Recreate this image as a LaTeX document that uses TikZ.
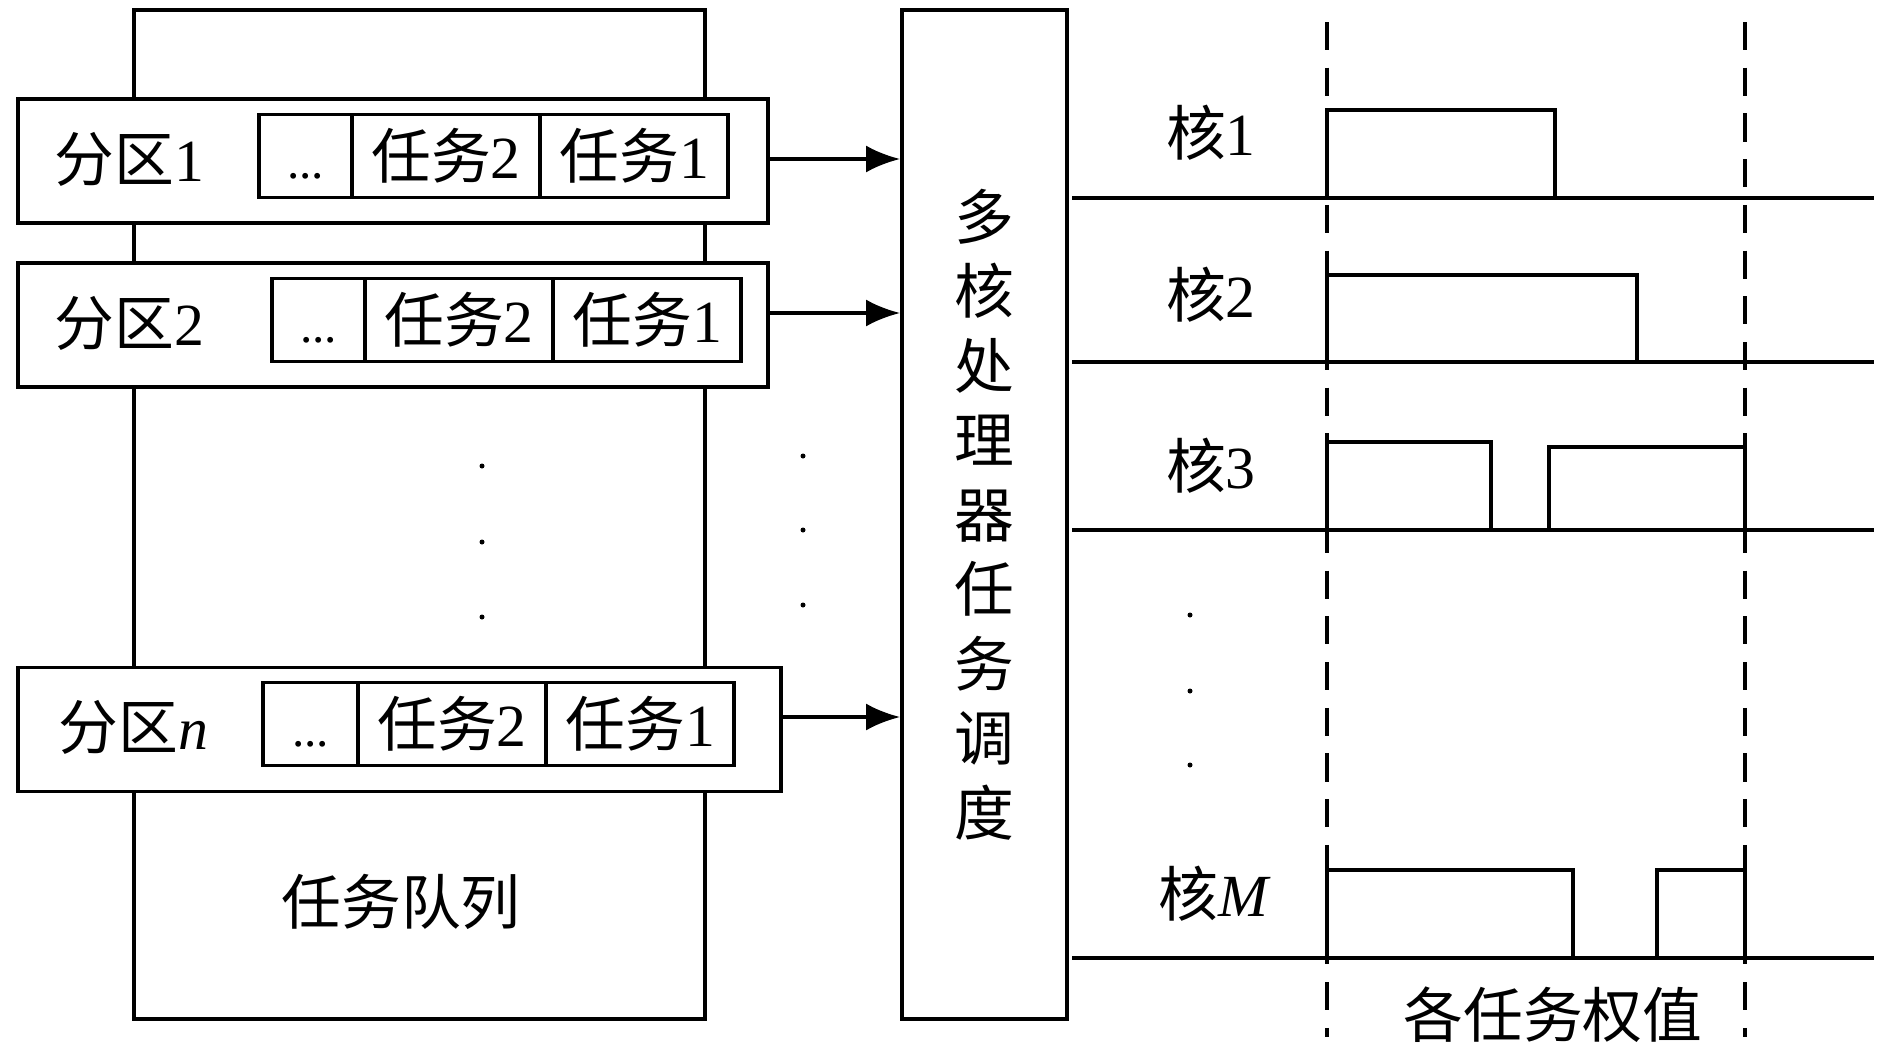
\documentclass[tikz,border=0pt]{standalone}
\usepackage{fontspec}
\setmainfont{Liberation Serif}
\newfontfamily\cjk{Noto Sans CJK SC}
\usetikzlibrary{arrows.meta,positioning}

\tikzset{
	box/.style={draw,line width=1.05pt,inner sep=0pt},
	part/.style={box,fill=white,minimum height=1.24cm},
	cell/.style={box,outer sep=0pt,minimum height=0.83cm,font=\fontsize{17}{20}\selectfont},
	lbl/.style={inner sep=0pt,font=\fontsize{17}{20}\selectfont},
	arr/.style={-{Latex[length=0.34cm,width=0.27cm]},line width=1.05pt},
	axis/.style={line width=1.05pt},
	dashline/.style={line width=1.05pt,dash pattern=on 8pt off 5pt}
}

\begin{document}
\begin{tikzpicture}[x=0.01cm,y=-0.01cm]
	\useasboundingbox (0,0) rectangle (1890,1051);
	
	\node (queue) [box,minimum width=5.71cm,minimum height=10.09cm] at (419.5,514.5) {};
	\node (qlbl) [lbl] at (401,902) {\cjk 任务队列};
	\foreach \y in {466,542,617}
	\fill (482,\y) circle (2.5);
	
	\node (p1) [part,minimum width=7.5cm] at (393,161) {};
	\node (p2) [part,minimum width=7.5cm] at (393,325) {};
	\node (pn) [part,minimum width=7.63cm] at (399.5,729.5) {};
	\node (l1) [lbl,anchor=west] at (54,159) {{\cjk 分区}1};
	\node (l2) [lbl,anchor=west] at (54,323) {{\cjk 分区}2};
	\node (ln) [lbl,anchor=west] at (58,727) {{\cjk 分区}\textit{n}};
	
	\foreach \p/\x/\y/\w in {1/259/156/0.93, 2/272/320/0.93, n/263/724/0.95}{
		\node (d\p) [cell,minimum width=\w cm,anchor=west] at (\x,\y) {\vphantom{{\cjk 任务}2}{\fontsize{14}{14}\selectfont...}};
		\node (b\p) [cell,minimum width=1.88cm,right=0pt of d\p] {{\cjk 任务}2};
		\node (a\p) [cell,minimum width=1.88cm,right=0pt of b\p] {{\cjk 任务}1};
	}
	
	\foreach \y in {456,530,605}
	\fill (803,\y) circle (2.5);
	
	\node (sched) [box,minimum width=1.65cm,minimum height=10.09cm,align=center,font=\fontsize{17}{21.2}\selectfont\cjk] at (984.5,514.5) {多\\核\\处\\理\\器\\任\\务\\调\\度};
	
	\coordinate (h1) at (0,159);
	\coordinate (h2) at (0,313);
	\coordinate (hn) at (0,717);
	\draw [arr] (p1.east |- h1) -- (sched.west |- h1);
	\draw [arr] (p2.east |- h2) -- (sched.west |- h2);
	\draw [arr] (pn.east |- hn) -- (sched.west |- hn);
	
	% cores
	\foreach \y in {198,362,530,958}
	\draw [axis] (1072,\y) -- (1874,\y);
	\draw [dashline] (1327,22) -- (1327,1037);
	\draw [dashline] (1745,22) -- (1745,1037);
	
	\draw [axis] (1327,198) rectangle (1555,110);
	\draw [axis] (1327,362) rectangle (1637,275);
	\draw [axis] (1327,530) rectangle (1491,442);
	\draw [axis] (1549,530) rectangle (1745,447);
	\draw [axis] (1327,958) rectangle (1573,870);
	\draw [axis] (1657,958) rectangle (1745,870);
	
	\node (k1) [lbl] at (1211,133) {{\cjk 核}1};
	\node (k2) [lbl] at (1211,295) {{\cjk 核}2};
	\node (k3) [lbl] at (1211,466) {{\cjk 核}3};
	\node (kM) [lbl] at (1215,894) {{\cjk 核}\textit{M}};
	\foreach \y in {615,691,765}
	\fill (1190,\y) circle (2.5);
	
	\node (wt) [lbl] at (1553,1015) {\cjk 各任务权值};
\end{tikzpicture}
\end{document}
